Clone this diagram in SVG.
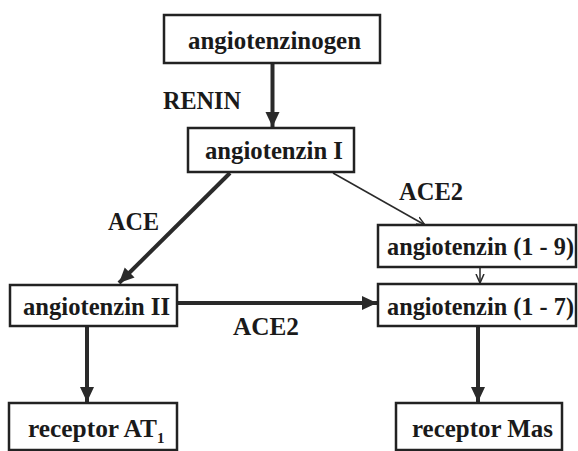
<svg xmlns="http://www.w3.org/2000/svg" width="578" height="451" viewBox="0 0 578 451">
<style>
.box{fill:#fff;stroke:#222;stroke-width:2.5}
.t{font-family:"Liberation Serif","Times New Roman",serif;font-weight:bold;font-size:25px;fill:#1a1a1a}
.sub{font-size:15px}
.thick{stroke:#2a2a2a;stroke-width:4;fill:none}
.thin{stroke:#2a2a2a;stroke-width:1.5;fill:none}
</style>
<defs>
<marker id="big" markerUnits="userSpaceOnUse" markerWidth="16" markerHeight="16" viewBox="0 0 16 16" refX="15" refY="8" orient="auto">
<path d="M0,1 L15,8 L0,15 Z" fill="#2a2a2a"/>
</marker>
<marker id="small" markerUnits="userSpaceOnUse" markerWidth="10" markerHeight="10" viewBox="0 0 10 10" refX="9" refY="5" orient="auto">
<path d="M0,1 L9,5 L0,9" fill="none" stroke="#2a2a2a" stroke-width="1.5"/>
</marker>
</defs>
<g id="connectors">
<line class="thick" x1="272.5" y1="63" x2="272.5" y2="127" marker-end="url(#big)"/>
<line class="thick" x1="230" y1="173" x2="119" y2="283" marker-end="url(#big)"/>
<line class="thin" x1="333" y1="173" x2="425" y2="225" marker-end="url(#small)"/>
<line class="thin" x1="480" y1="267" x2="480" y2="283" marker-end="url(#small)"/>
<line class="thick" x1="177" y1="303" x2="377" y2="303" marker-end="url(#big)"/>
<line class="thick" x1="87" y1="326" x2="87" y2="402" marker-end="url(#big)"/>
<line class="thick" x1="478" y1="326" x2="478" y2="402" marker-end="url(#big)"/>
<text class="t" x="163" y="109" textLength="78" lengthAdjust="spacingAndGlyphs">RENIN</text>
<text class="t" x="108" y="230" textLength="51" lengthAdjust="spacingAndGlyphs">ACE</text>
<text class="t" x="399" y="200" textLength="64" lengthAdjust="spacingAndGlyphs">ACE2</text>
<text class="t" x="233" y="335" textLength="66" lengthAdjust="spacingAndGlyphs">ACE2</text>
</g>
<g id="angiotenzinogen">
<rect class="box" x="164" y="15" width="216" height="48"/>
<text class="t" x="188" y="49" textLength="173" lengthAdjust="spacingAndGlyphs">angiotenzinogen</text>
</g>
<g id="angiotenzin-I">
<rect class="box" x="188" y="128" width="166" height="44"/>
<text class="t" x="205" y="159" textLength="138" lengthAdjust="spacingAndGlyphs">angiotenzin I</text>
</g>
<g id="angiotenzin-II">
<rect class="box" x="10" y="285" width="167" height="41"/>
<text class="t" x="23" y="315" textLength="147" lengthAdjust="spacingAndGlyphs">angiotenzin II</text>
</g>
<g id="angiotenzin-1-9">
<rect class="box" x="378" y="225" width="198" height="42"/>
<text class="t" x="387" y="255" textLength="187" lengthAdjust="spacingAndGlyphs">angiotenzin (1 - 9)</text>
</g>
<g id="angiotenzin-1-7">
<rect class="box" x="378" y="284" width="198" height="42"/>
<text class="t" x="387" y="315" textLength="187" lengthAdjust="spacingAndGlyphs">angiotenzin (1 - 7)</text>
</g>
<g id="receptor-AT1">
<rect class="box" x="9" y="403" width="168" height="47"/>
<text class="t" x="28" y="437"><tspan textLength="129" lengthAdjust="spacingAndGlyphs">receptor AT</tspan><tspan class="sub" dy="6">1</tspan></text>
</g>
<g id="receptor-Mas">
<rect class="box" x="396" y="403" width="166" height="47"/>
<text class="t" x="412" y="437" textLength="141" lengthAdjust="spacingAndGlyphs">receptor Mas</text>
</g>
</svg>
